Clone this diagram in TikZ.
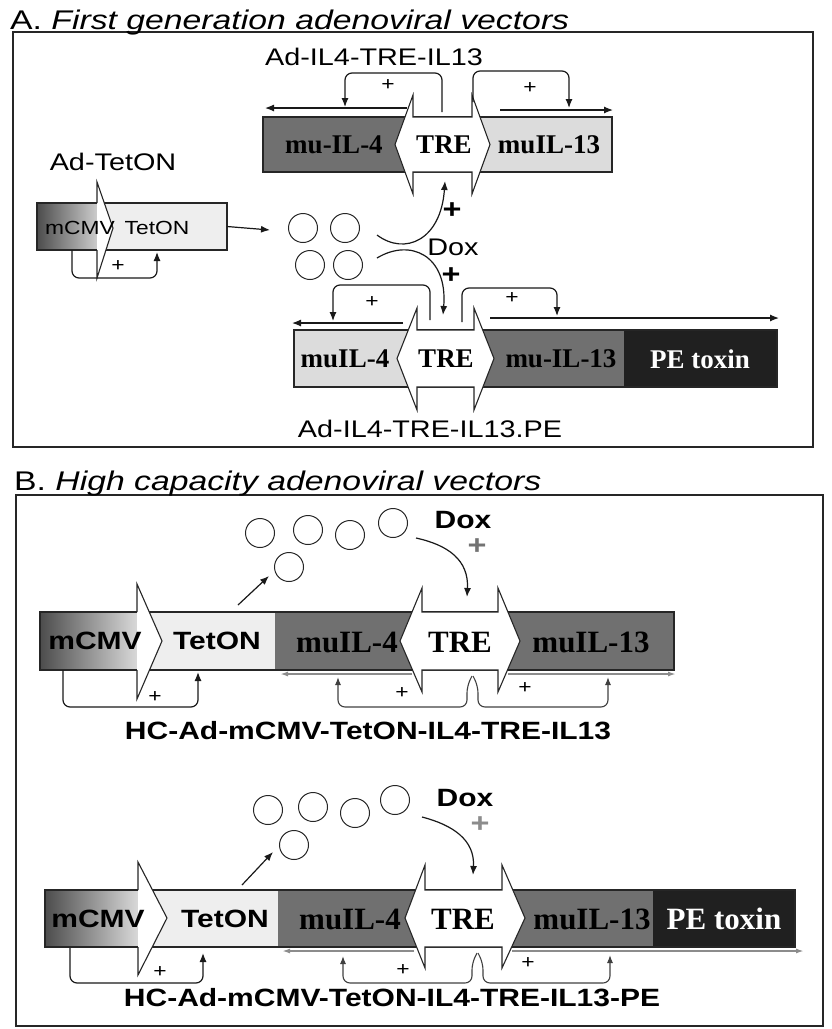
\documentclass[tikz,border=0pt]{standalone}
\usepackage{fontspec}
\setmainfont{Liberation Sans}
\newfontfamily\labfont[FakeStretch=1.2]{Liberation Sans}
\newfontfamily\ttlfont[FakeStretch=1.25]{Liberation Sans}
\newfontfamily\genefont{Liberation Serif}
\usetikzlibrary{arrows.meta, positioning, calc}
\definecolor{segdark}{RGB}{112,112,112}
\definecolor{seglight}{RGB}{220,220,220}
\definecolor{segpale}{RGB}{238,238,238}
\definecolor{segtox}{RGB}{32,32,32}
\tikzset{
  frame/.style={draw=black!85,line width=1.4pt},
  seg/.style={rectangle,inner sep=0pt,outer sep=0pt,anchor=north west},
  blk/.style={draw=black!85,line width=1.1pt},
  trearrow/.style={draw=black!85,fill=white,line width=1.1pt,line join=miter},
  promo/.style={draw=black!85,fill=white,line width=1.1pt,line join=miter},
  gene/.style={font=\genefont\bfseries\fontsize{27}{30}\selectfont,inner sep=0pt},
  genebig/.style={font=\genefont\bfseries\fontsize{31}{34}\selectfont,inner sep=0pt},
  lab/.style={font=\labfont\fontsize{24}{28}\selectfont,inner sep=0pt},
  labbold/.style={font=\labfont\bfseries\fontsize{25}{28}\selectfont,inner sep=0pt},
  ttl/.style={font=\ttlfont\fontsize{27}{30}\selectfont,inner sep=0pt,anchor=base west},
  plus/.style={font=\labfont\fontsize{19}{20}\selectfont,inner sep=0pt},
  bigplus/.style={font=\labfont\bfseries\fontsize{27}{28}\selectfont,inner sep=0pt},
  mol/.style={circle,draw=black!85,line width=1pt,minimum size=29pt,inner sep=0pt},
  arr/.style={-{Latex[length=9pt,width=7pt]},line width=1.2pt,draw=black!90},
  brk/.style={arr,rounded corners=7pt},
  grayline/.style={-{Latex[length=8pt,width=5pt]},line width=2pt,draw=black!45},
  graybrk/.style={-{Latex[length=8pt,width=6pt]},line width=1.1pt,draw=black!75,rounded corners=7pt}
}

\begin{document}
\begin{tikzpicture}[x=1pt,y=-1pt]
  \useasboundingbox (0,0) rectangle (832,1029);

  %% Frames and titles
  \draw[frame] (13,32) rectangle (813,447);
  \draw[frame] (16,495) rectangle (823,1026);
  \node[ttl] (ttlA) at (10,29) {A. \textit{First generation adenoviral vectors}};
  \node[ttl] (ttlB) at (14,490) {B. \textit{High capacity adenoviral vectors}};

  %% Ad-TetON
  \node[lab] (a0lab) at (113,162) {Ad-TetON};
  \node[seg,left color=black!70,right color=black!20,minimum width=60pt,minimum height=47pt] (a0cmv) at (37,203) {};
  \node[seg,fill=segpale,minimum width=130pt,minimum height=47pt] (a0tet) at (97,203) {};
  \draw[blk] (a0cmv.north west) rectangle (a0tet.south east);
  \draw[promo] (97,203) -- (97,182) -- (113,228) -- (97,278) -- (97,250);
  \node[lab,font=\labfont\fontsize{19}{22}\selectfont] (a0cmvt) at (80,228) {mCMV};
  \node[lab,font=\labfont\fontsize{19}{22}\selectfont] (a0tett) at (157,228) {TetON};
  \coordinate (a0b0) at (72,250);
  \coordinate (a0b1) at (157,252);
  \draw[brk] (a0b0) -- (72,278) -- (157,278) -- (a0b1);
  \node[plus] (a0p) at (118,266) {+};

  %% Dox molecules
  \node[mol] (am1) at (303,228) {};
  \node[mol] (am2) at (345,228) {};
  \node[mol] (am3) at (310,265) {};
  \node[mol] (am4) at (348,265) {};
  \coordinate (a0go) at (270,230);
  \draw[arr] (a0tet.east) -- (a0go);
  \node[lab] (adox) at (453,247) {Dox};
  \node[bigplus] (adp1) at (452,211) {+};
  \node[bigplus] (adp2) at (451,276) {+};

  %% Ad-IL4-TRE-IL13
  \node[lab] (a1lab) at (374,57) {Ad-IL4-TRE-IL13};
  \node[seg,fill=segdark,minimum width=150pt,minimum height=55pt] (a1il4) at (263,117) {};
  \node[seg,fill=seglight,minimum width=140pt,minimum height=55pt] (a1il13) at (472,117) {};
  \draw[blk] (a1il4.north west) rectangle (a1il13.south east);
  \draw[trearrow] (395,144.5) -- (413,95) -- (413,117) -- (472,117) -- (472,95) -- (490,144.5)
    -- (472,194) -- (472,172) -- (413,172) -- (413,194) -- cycle;
  \node[gene] (a1il4t) at (334,145) {mu-IL-4};
  \node[gene] (a1tre) at (444,145) {TRE};
  \node[gene] (a1il13t) at (549,145) {muIL-13};
  \coordinate (a1l0) at (407,108);
  \coordinate (a1l1) at (265,108);
  \coordinate (a1r0) at (500,110);
  \coordinate (a1r1) at (613,110);
  \draw[arr] (a1l0) -- (a1l1);
  \draw[arr] (a1r0) -- (a1r1);
  \draw[brk] (442,112) -- (442,73) -- (345,73) -- (345,107);
  \draw[brk] (473,102) -- (473,71) -- (569,71) -- (569,108);
  \node[plus] (a1p1) at (388,85) {+};
  \node[plus] (a1p2) at (530,88) {+};
  \coordinate (au0) at (377,235);
  \coordinate (au1) at (445,181);
  \draw[arr] (au0) .. controls (405,256) and (441,240) .. (au1);

  %% Ad-IL4-TRE-IL13.PE
  \node[seg,fill=seglight,minimum width=123pt,minimum height=57pt] (a2il4) at (294,330) {};
  \node[seg,fill=segdark,minimum width=150pt,minimum height=57pt] (a2il13) at (474,330) {};
  \node[seg,fill=segtox,minimum width=153pt,minimum height=57pt] (a2pe) at (624,330) {};
  \draw[blk] (a2il4.north west) rectangle (a2pe.south east);
  \draw[trearrow] (397,358.5) -- (417,308) -- (417,330) -- (474,330) -- (474,308) -- (494,358.5)
    -- (474,410) -- (474,387) -- (417,387) -- (417,410) -- cycle;
  \node[gene] (a2il4t) at (345,359) {muIL-4};
  \node[gene] (a2tre) at (446,359) {TRE};
  \node[gene] (a2il13t) at (561,359) {mu-IL-13};
  \node[gene,text=white] (a2pet) at (700,359) {PE toxin};
  \coordinate (a2l0) at (403,323);
  \coordinate (a2l1) at (292,323);
  \coordinate (a2r0) at (490,318);
  \coordinate (a2r1) at (779,318);
  \draw[arr] (a2l0) -- (a2l1);
  \draw[arr] (a2r0) -- (a2r1);
  \draw[brk] (430,320) -- (430,285) -- (333,285) -- (333,321);
  \draw[brk] (462,322) -- (462,288) -- (557,288) -- (557,316);
  \node[plus] (a2p1) at (372,302) {+};
  \node[plus] (a2p2) at (512,298) {+};
  \coordinate (ad0) at (377,258);
  \coordinate (ad1) at (443,315);
  \draw[arr] (ad0) .. controls (410,238) and (448,255) .. (ad1);
  \node[lab] (a2lab) at (430,429) {Ad-IL4-TRE-IL13.PE};

  %% HC-Ad-mCMV-TetON-IL4-TRE-IL13
  \node[seg,left color=black!70,right color=black!15,minimum width=97pt,minimum height=58pt] (b1cmv) at (40,612) {};
  \node[seg,fill=segpale,minimum width=138pt,minimum height=58pt] (b1tet) at (137,612) {};
  \node[seg,fill=segdark,minimum width=148pt,minimum height=58pt] (b1il4) at (275,612) {};
  \node[seg,fill=segdark,minimum width=176pt,minimum height=58pt] (b1il13) at (498,612) {};
  \draw[blk] (b1cmv.north west) rectangle (b1il13.south east);
  \draw[promo] (137,612) -- (137,584) -- (162,641) -- (137,699) -- (137,670);
  \draw[trearrow] (400,641) -- (422,588) -- (422,612) -- (498,612) -- (498,588) -- (520,641)
    -- (498,692) -- (498,670) -- (422,670) -- (422,692) -- cycle;
  \node[labbold] (b1cmvt) at (95,641) {mCMV};
  \node[labbold] (b1tett) at (217,641) {TetON};
  \node[genebig] (b1il4t) at (347,642) {muIL-4};
  \node[genebig] (b1tre) at (460,642) {TRE};
  \node[genebig] (b1il13t) at (591,642) {muIL-13};
  \coordinate (b1l0) at (412,674);
  \coordinate (b1l1) at (280,674);
  \coordinate (b1r0) at (508,674);
  \coordinate (b1r1) at (676,674);
  \draw[grayline] (b1l0) -- (b1l1);
  \draw[grayline] (b1r0) -- (b1r1);
  \draw[brk] (63,670) -- (63,707) -- (198,707) -- (198,672);
  \draw[graybrk] (472,676) -- (467,686) -- (467,707) -- (338,707) -- (338,677);
  \draw[graybrk] (473,676) -- (478,686) -- (478,707) -- (608,707) -- (608,677);
  \node[plus] (b1p0) at (155,697) {+};
  \node[plus] (b1p1) at (402,693) {+};
  \node[plus] (b1p2) at (525,688) {+};
  \node[mol] (b1m1) at (260,533) {};
  \node[mol] (b1m2) at (308,530) {};
  \node[mol] (b1m3) at (350,535) {};
  \node[mol] (b1m4) at (393,523) {};
  \node[mol] (b1m5) at (289,567) {};
  \coordinate (b1g0) at (238,605);
  \coordinate (b1g1) at (269,576);
  \draw[arr] (b1g0) -- (b1g1);
  \node[labbold] (b1dox) at (463,520) {Dox};
  \node[bigplus,text=black!55] (b1dp) at (477,547) {+};
  \coordinate (b1c0) at (416,538);
  \coordinate (b1c1) at (467,597);
  \draw[arr] (b1c0) .. controls (448,545) and (469,560) .. (b1c1);
  \node[labbold] (b1lab) at (368,731) {HC-Ad-mCMV-TetON-IL4-TRE-IL13};

  %% HC-Ad-mCMV-TetON-IL4-TRE-IL13-PE
  \node[seg,left color=black!70,right color=black!15,minimum width=93pt,minimum height=57pt] (b2cmv) at (45,890) {};
  \node[seg,fill=segpale,minimum width=140pt,minimum height=57pt] (b2tet) at (138,890) {};
  \node[seg,fill=segdark,minimum width=147pt,minimum height=57pt] (b2il4) at (278,890) {};
  \node[seg,fill=segdark,minimum width=151pt,minimum height=57pt] (b2il13) at (502,890) {};
  \node[seg,fill=segtox,minimum width=142pt,minimum height=57pt] (b2pe) at (653,890) {};
  \draw[blk] (b2cmv.north west) rectangle (b2pe.south east);
  \draw[promo] (138,890) -- (138,862) -- (167,918) -- (138,975) -- (138,947);
  \draw[trearrow] (405,918) -- (425,865) -- (425,890) -- (502,890) -- (502,865) -- (525,918)
    -- (502,968) -- (502,947) -- (425,947) -- (425,968) -- cycle;
  \node[labbold] (b2cmvt) at (98,919) {mCMV};
  \node[labbold] (b2tett) at (225,919) {TetON};
  \node[genebig] (b2il4t) at (350,919) {muIL-4};
  \node[genebig] (b2tre) at (463,919) {TRE};
  \node[genebig] (b2il13t) at (592,919) {muIL-13};
  \node[genebig,text=white] (b2pet) at (724,919) {PE toxin};
  \coordinate (b2l0) at (414,951);
  \coordinate (b2l1) at (282,951);
  \coordinate (b2r0) at (512,951);
  \coordinate (b2r1) at (804,951);
  \draw[grayline] (b2l0) -- (b2l1);
  \draw[grayline] (b2r0) -- (b2r1);
  \draw[brk] (70,948) -- (70,983) -- (203,983) -- (203,953);
  \draw[graybrk] (477,953) -- (472,963) -- (472,983) -- (343,983) -- (343,956);
  \draw[graybrk] (478,953) -- (483,963) -- (483,983) -- (610,983) -- (610,955);
  \node[plus] (b2p0) at (160,972) {+};
  \node[plus] (b2p1) at (403,970) {+};
  \node[plus] (b2p2) at (528,963) {+};
  \node[mol] (b2m1) at (268,810) {};
  \node[mol] (b2m2) at (313,807) {};
  \node[mol] (b2m3) at (355,813) {};
  \node[mol] (b2m4) at (395,800) {};
  \node[mol] (b2m5) at (294,845) {};
  \coordinate (b2g0) at (242,885);
  \coordinate (b2g1) at (273,852);
  \draw[arr] (b2g0) -- (b2g1);
  \node[labbold] (b2dox) at (465,798) {Dox};
  \node[bigplus,text=black!45] (b2dp) at (480,825) {+};
  \coordinate (b2c0) at (422,817);
  \coordinate (b2c1) at (473,875);
  \draw[arr] (b2c0) .. controls (453,825) and (475,840) .. (b2c1);
  \node[labbold] (b2lab) at (392,998) {HC-Ad-mCMV-TetON-IL4-TRE-IL13-PE};
\end{tikzpicture}
\end{document}
